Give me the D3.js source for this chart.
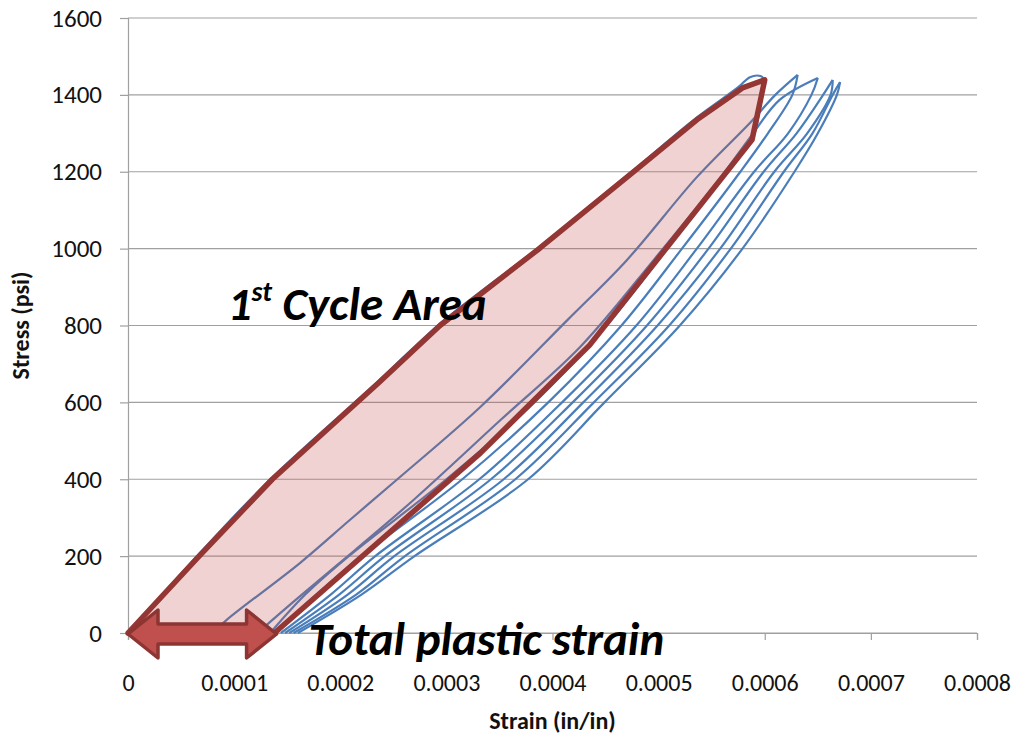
<!DOCTYPE html>
<html><head><meta charset="utf-8">
<script src="https://cdn.jsdelivr.net/npm/d3@7"></script>
<style>body{margin:0;background:#fff} svg{display:block}</style>
</head><body><svg id="c" width="1021" height="740"></svg>
<script>
// ---- data ----
const yTicks = [0,200,400,600,800,1000,1200,1400,1600];
const xTicks = [0,0.0001,0.0002,0.0003,0.0004,0.0005,0.0006,0.0007,0.0008];
const xTickLabels = ["0","0.0001","0.0002","0.0003","0.0004","0.0005","0.0006","0.0007","0.0008"];

const cycle1Up = [[0,0],[0.000065,200],[0.000134,400],[0.000235,653],[0.000292,800],[0.000386,1001],[0.000474,1199],[0.000534,1337],[0.000575,1420],[0.000586,1446],[0.000596,1449],[0.0006,1439]];
const cycle1Down = [[0.0006,1439],[0.000596,1374],[0.000588,1283],[0.000564,1200],[0.000508,1000],[0.000451,800],[0.000383,600],[0.0003,400],[0.000208,200],[0.000167,100],[0.000134,0]];
const cycle2Up = [[0.00008,0],[0.000093,34],[0.000162,182],[0.000209,294],[0.000253,398],[0.000332,588],[0.000414,814],[0.00047,970],[0.000536,1186],[0.000586,1327],[0.00061,1400],[0.000631,1452]];
const cycle2Down = [[0.000631,1452],[0.000626,1400],[0.000603,1300],[0.000577,1200],[0.000522,1000],[0.000465,800],[0.000396,600],[0.000315,400],[0.00022,200],[0.000178,100],[0.000139,0]];
const cycle3Up = [[0.000122,0],[0.000158,86],[0.000214,216],[0.000269,346],[0.000351,554],[0.000426,744],[0.000497,976],[0.000558,1184],[0.000588,1296],[0.000614,1387],[0.00065,1444]];
const cycle3Down = [[0.00065,1444],[0.000644,1400],[0.000622,1300],[0.00059,1200],[0.000536,1000],[0.000479,800],[0.000409,600],[0.000331,400],[0.000233,200],[0.000191,100],[0.000144,0]];
const cycle4Up = [[0.000148,0],[0.000199,100],[0.000242,200],[0.000342,400],[0.000419,600],[0.000489,800],[0.000547,1000],[0.000599,1200],[0.00063,1300],[0.000655,1400],[0.000664,1439]];
const cycle4Down = [[0.000664,1439],[0.000662,1400],[0.00064,1300],[0.000609,1200],[0.000558,1000],[0.000499,800],[0.000429,600],[0.000354,400],[0.000251,200],[0.000207,100],[0.000152,0]];
const cycle5Up = [[0.000156,0],[0.000215,100],[0.000261,200],[0.000365,400],[0.000439,600],[0.00051,800],[0.000568,1000],[0.000618,1200],[0.000645,1300],[0.000664,1400],[0.000671,1433]];
const cycle5Down = [[0.000671,1433],[0.000668,1400],[0.00065,1300],[0.000628,1200],[0.000579,1000],[0.00052,800],[0.000449,600],[0.000377,400],[0.00027,200],[0.00022,100],[0.00016,0]];

const areaPolygon = [[0,0],[0.000067,200],[0.000136,400],[0.000237,653],[0.000294,800],[0.000388,1001],[0.000476,1199],[0.000536,1335],[0.000579,1418],[0.0006,1439],[0.000588,1283],[0.000435,749],[0.000332,468],[0.000138,0]];
const plasticStrainArrow = [0, 0.00014]; // strain range, at stress 0

const labelCycle = {strain:0.000094, stress:814};
const labelPlastic = {strain:0.00017, stress:-57};

// ---- chart ----
const svg = d3.select("#c");
const x = d3.scaleLinear().domain([0,0.0008]).range([128,977]);
const y = d3.scaleLinear().domain([0,1600]).range([633,18]);
const tickFont = "Carlito, Calibri, Lato, 'Open Sans', sans-serif";

// gridlines
svg.append("g").selectAll("line").data(yTicks).join("line")
  .attr("x1", x(0)).attr("x2", x(0.0008))
  .attr("y1", d=>y(d)).attr("y2", d=>y(d))
  .attr("stroke","#a0a0a0").attr("stroke-width",1.2);

// y axis
const yAxis = svg.append("g").attr("transform",`translate(${x(0)},0)`)
  .call(d3.axisLeft(y).tickValues(yTicks).tickSize(8).tickPadding(18).tickFormat(d3.format("d")));
yAxis.select(".domain").attr("stroke","#a0a0a0").attr("stroke-width",1.2);
yAxis.selectAll(".tick line").attr("stroke","#a0a0a0").attr("stroke-width",1.2);
yAxis.selectAll(".tick text").attr("font-family",tickFont).attr("font-size",25).attr("fill","#111");

// x axis
const xAxis = svg.append("g").attr("transform",`translate(0,${y(0)})`)
  .call(d3.axisBottom(x).tickValues(xTicks).tickSize(7).tickPadding(34).tickFormat((d,i)=>xTickLabels[i]));
xAxis.select(".domain").attr("stroke","#a0a0a0").attr("stroke-width",1.2);
xAxis.selectAll(".tick line").attr("stroke","#a0a0a0").attr("stroke-width",1.2);
xAxis.selectAll(".tick text").attr("font-family",tickFont).attr("font-size",24).attr("fill","#111");

// axis titles
svg.append("text").attr("x", (x(0)+x(0.0008))/2).attr("y", 729)
  .attr("text-anchor","middle").attr("font-family",tickFont).attr("font-weight","bold")
  .attr("font-size",24).attr("fill","#111").text("Strain (in/in)");
svg.append("text").attr("transform",`translate(29,${(y(0)+y(1600))/2}) rotate(-90)`)
  .attr("text-anchor","middle").attr("font-family",tickFont).attr("font-weight","bold")
  .attr("font-size",24).attr("fill","#111").text("Stress (psi)");

// blue curves
const line = d3.line().x(d=>x(d[0])).y(d=>y(d[1])).curve(d3.curveCatmullRom.alpha(0.5));
const curves = [cycle1Up,cycle1Down,cycle2Up,cycle2Down,cycle3Up,cycle3Down,cycle4Up,cycle4Down,cycle5Up,cycle5Down];
svg.append("g").selectAll("path").data(curves).join("path")
  .attr("d", line).attr("fill","none").attr("stroke","#4a7ebb").attr("stroke-width",2.2)
  .attr("stroke-linejoin","round");

// 1st cycle area polygon
const poly = d3.line().x(d=>x(d[0])).y(d=>y(d[1])).curve(d3.curveLinearClosed);
svg.append("path").attr("d", poly(areaPolygon))
  .attr("fill","rgba(192,80,77,0.26)").attr("stroke","#943634").attr("stroke-width",5.5)
  .attr("stroke-linejoin","round");

// double arrow
const ax0 = x(plasticStrainArrow[0]), ax1 = x(plasticStrainArrow[1]), ay = y(0)+1;
const headL = 30, headH = 24, shaftH = 10;
const arrowPts = [
  [ax0, ay],[ax0+headL, ay-headH],[ax0+headL, ay-shaftH],[ax1-headL, ay-shaftH],[ax1-headL, ay-headH],
  [ax1, ay],[ax1-headL, ay+headH],[ax1-headL, ay+shaftH],[ax0+headL, ay+shaftH],[ax0+headL, ay+headH]
];
svg.append("path").attr("d", d3.line()(arrowPts)+"Z")
  .attr("fill","#c0504d").attr("stroke","#8c3533").attr("stroke-width",3.5).attr("stroke-linejoin","round");

// annotations
const annFont = "Carlito, Calibri, Lato, 'Open Sans', sans-serif";
const t1 = svg.append("text").attr("x", x(labelCycle.strain)).attr("y", y(labelCycle.stress))
  .attr("font-family",annFont).attr("font-weight","bold").attr("font-style","italic")
  .attr("font-size",47).attr("fill","#000");
t1.append("tspan").text("1");
t1.append("tspan").attr("font-size",28).attr("dy",-19).text("st");
t1.append("tspan").attr("dy",19).text(" Cycle Area");
const t2 = svg.append("text").attr("x", x(labelPlastic.strain)).attr("y", y(labelPlastic.stress))
  .attr("font-family",annFont).attr("font-weight","bold").attr("font-style","italic")
  .attr("font-size",47).attr("fill","#000").text("Total plastic strain");
</script></body></html>
